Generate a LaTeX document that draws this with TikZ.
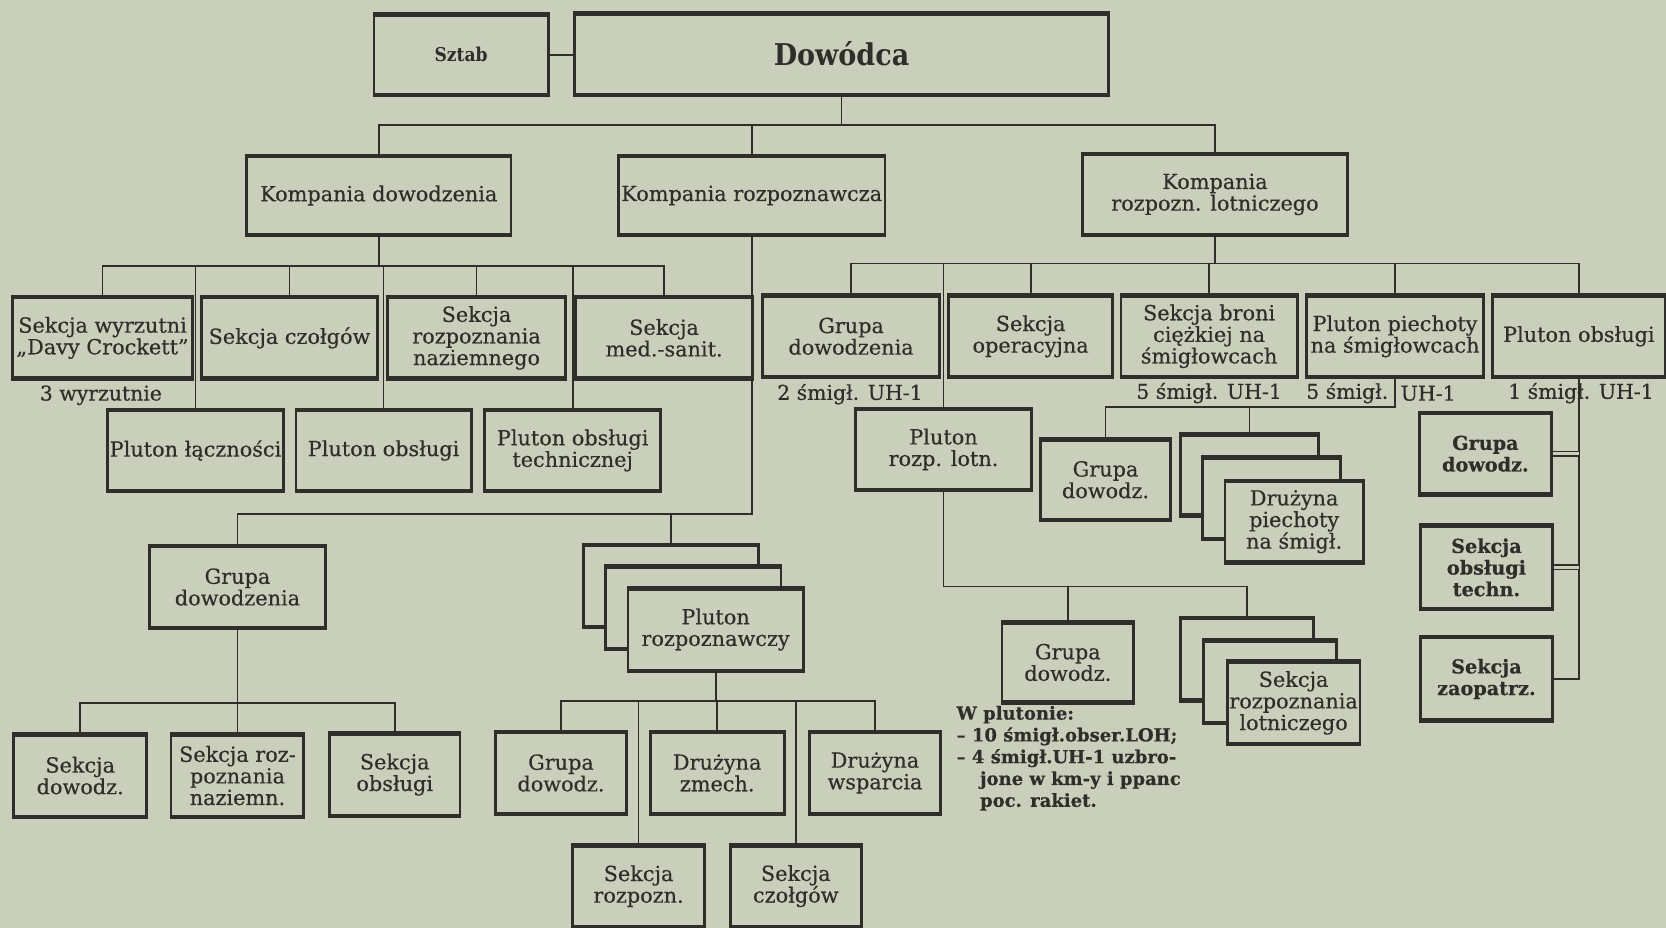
\documentclass[tikz,border=0pt]{standalone}
\usepackage{fontspec}
\setmainfont{DejaVu Serif}[FakeBold=0.4]
\newfontfamily\narrowfont{DejaVu Serif}[FakeStretch=0.9]
\usetikzlibrary{calc}
\definecolor{paper}{RGB}{202,207,187}
\definecolor{ink}{RGB}{46,46,42}
\begin{document}
\begin{tikzpicture}[x=0.53125pt,y=-0.53125pt,
  every node/.style={text=ink},
  box/.style 2 args={draw=ink, fill=paper, line width=1.4pt, inner sep=0pt,
    minimum width=#1*0.53125pt, minimum height=#2*0.53125pt, align=center,
    font=\fontsize{10.4}{10.8}\selectfont,
    path picture={\draw[ink, line width=3pt]
      (path picture bounding box.north west) -- (path picture bounding box.north east)
      (path picture bounding box.south west) -- (path picture bounding box.south east);}},
  bbox/.style={font=\bfseries\fontsize{9.6}{10.8}\selectfont},
  conn/.style={draw=ink, line width=0.9pt},
  dconn/.style={draw=ink, line width=0.8pt, double=paper, double distance=1.3pt},
  lbl/.style={font=\fontsize{10.2}{11}\selectfont, inner sep=0pt}
]
\fill[paper] (0,0) rectangle (1568,873);
\useasboundingbox (0,0) rectangle (1568,873);

% coordinates of bus lines
\coordinate (b1) at (0,118);
\coordinate (b2) at (0,250);
\coordinate (b3) at (0,484);
\coordinate (b4) at (0,662);
\coordinate (b5) at (0,660);
\coordinate (b6) at (0,248);
\coordinate (b7) at (0,552);
\coordinate (b8) at (0,383);

% top
\node[box={164}{77}, font=\narrowfont\bfseries\fontsize{9.5}{11}\selectfont] (sztab) at (434,51.5) {Sztab};
\node[box={502}{78}, font=\narrowfont\bfseries\fontsize{15}{17}\selectfont] (dow) at (792,51) {Dowódca};

% companies
\node[box={249}{76}] (kd) at (356.5,184) {Kompania dowodzenia};
\node[box={251}{76}] (kr) at (707.5,184) {Kompania rozpoznawcza};
\node[box={249}{78}] (kl) at (1143.5,183) {Kompania\\rozpozn. lotniczego};

% row 3
\node[box={169}{78}] (s1) at (96.5,318) {Sekcja wyrzutni\\„Davy Crockett''};
\node[box={165}{78}] (s2) at (272.5,318) {Sekcja czołgów};
\node[box={167}{78}] (s3) at (448.5,318) {Sekcja\\rozpoznania\\naziemnego};
\node[box={166}{78}] (s4) at (625,318) {Sekcja\\med.-sanit.};
\node[box={166}{78}] (gd1) at (801,316.5) {Grupa\\dowodzenia};
\node[box={154}{78}] (so) at (970,316.5) {Sekcja\\operacyjna};
\node[box={166}{78}] (sb) at (1138,316.5) {Sekcja broni\\ciężkiej na\\śmigłowcach};
\node[box={166}{78}] (pp) at (1313,316.5) {Pluton piechoty\\na śmigłowcach};
\node[box={162}{78}] (po) at (1486,316.5) {Pluton obsługi};

% row 4
\node[box={166}{78}] (pl) at (184,424) {Pluton łączności};
\node[box={165}{78}] (pob) at (361,424) {Pluton obsługi};
\node[box={166}{78}] (pot) at (539,424) {Pluton obsługi\\technicznej};
\node[box={165}{78}] (prl) at (888,423) {Pluton\\rozp. lotn.};
\node[box={123}{77}] (gd3) at (1040.5,451.5) {Grupa\\dowodz.};
\node[box={130}{78}] (dp3) at (1176,447) {};
\node[box={130}{78}] (dp2) at (1197,469) {};
\node[box={130}{78}] (dp) at (1218,491) {Drużyna\\piechoty\\na śmigł.};
\node[box={124}{78}, bbox] (gdR) at (1398,427) {Grupa\\dowodz.};
\node[box={124}{80}, bbox] (sot) at (1399,534) {Sekcja\\obsługi\\techn.};
\node[box={124}{80}, bbox] (sz) at (1399,639) {Sekcja\\zaopatrz.};

% row 5
\node[box={165}{79}] (gd2) at (223.5,552.5) {Grupa\\dowodzenia};
\node[box={165}{79}] (pr3) at (631.5,551.5) {};
\node[box={165}{79}] (pr2) at (652.5,572) {};
\node[box={165}{79}] (pr) at (673.5,592.5) {Pluton\\rozpoznawczy};
\node[box={124}{77}] (gd4) at (1005,623.5) {Grupa\\dowodz.};
\node[box={125}{79}] (srl3) at (1173.5,620.5) {};
\node[box={125}{79}] (srl2) at (1195.5,641.5) {};
\node[box={125}{79}] (srl) at (1217.5,661.5) {Sekcja\\rozpoznania\\lotniczego};

% row 6
\node[box={125}{79}] (sd) at (75.5,730) {Sekcja\\dowodz.};
\node[box={125}{79}] (srn) at (223.5,730) {Sekcja roz-\\poznania\\naziemn.};
\node[box={123}{79}] (sob) at (371.5,729) {Sekcja\\obsługi};
\node[box={124}{79}] (gd5) at (528,727.5) {Grupa\\dowodz.};
\node[box={126}{79}] (dz) at (675,727.5) {Drużyna\\zmech.};
\node[box={123}{79}] (dw) at (823.5,727.5) {Drużyna\\wsparcia};

% row 7
\node[box={124}{78}] (sr) at (601,834) {Sekcja\\rozpozn.};
\node[box={123}{78}] (sc) at (749,834) {Sekcja\\czołgów};

% labels
\node[lbl] (l1) at (95,372) {3 wyrzutnie};
\node[lbl] (l2) at (800,371) {2 śmigł. UH-1};
\node[lbl] (l3) at (1138,370) {5 śmigł. UH-1};
\node[lbl, anchor=east] (l4) at (1307,370) {5 śmigł.};
\node[lbl, anchor=west] (l5) at (1318,370) {UH-1};
\node[lbl] (l6) at (1488,370) {1 śmigł. UH-1};
\node[lbl, anchor=north west, align=left, font=\bfseries\fontsize{9}{10.9}\selectfont] (note) at (900,664)
  {W plutonie:\\– 10 śmigł.obser.LOH;\\– 4 śmigł.UH-1 uzbro-\\\hspace*{1.3em}jone w km-y i ppanc\\\hspace*{1.3em}poc. rakiet.};

% connectors
\draw[conn] (sztab.east) -- (sztab.east -| dow.west);
\draw[conn] (kd.north) -- (kd.north |- b1) -| (kl.north);
\draw[conn] (kr.north) -- (kr.north |- b1);
\draw[conn] (dow.south) -- (dow.south |- b1);

\draw[conn] (s1.north) -- (s1.north |- b2) -| (s4.north);
\draw[conn] (kd.south) -- (kd.south |- b2);
\draw[conn] (s2.north) -- (s2.north |- b2);
\draw[conn] (s3.north) -- (s3.north |- b2);
\draw[conn] (pl.north) -- (pl.north |- b2);
\draw[conn] (pob.north) -- (pob.north |- b2);
\draw[conn] (pot.north) -- (pot.north |- b2);

\draw[conn] (kr.south) -- (kr.south |- b3) -| (gd2.north);
\draw[conn] (pr3.north) -- (pr3.north |- b3);

\draw[conn] (sd.north) -- (sd.north |- b4) -| (sob.north);
\draw[conn] (gd2.south) -- (srn.north);

\draw[conn] (gd5.north) -- (gd5.north |- b5) -| (dw.north);
\draw[conn] (pr.south) -- (pr.south |- b5);
\draw[conn] (dz.north) -- (dz.north |- b5);
\draw[conn] (sr.north) -- (sr.north |- b5);
\draw[conn] (sc.north) -- (sc.north |- b5);

\draw[conn] (gd1.north) -- (gd1.north |- b6) -| (po.north);
\draw[conn] (kl.south) -- (kl.south |- b6);
\draw[conn] (so.north) -- (so.north |- b6);
\draw[conn] (sb.north) -- (sb.north |- b6);
\draw[conn] (pp.north) -- (pp.north |- b6);
\draw[conn] (prl.north) -- (prl.north |- b6);

\draw[conn] (prl.south) -- (prl.south |- b7) -| (srl3.north);
\draw[conn] (gd4.north) -- (gd4.north |- b7);

\draw[conn] (pp.south) -- (pp.south |- b8) -| (gd3.north);
\draw[conn] (dp3.north) -- (dp3.north |- b8);

\draw[conn, line width=1.2pt] (po.south) |- (sz.east);
\draw[dconn] (gdR.east) -- (gdR.east -| po.south);
\draw[dconn] (sot.east) -- (sot.east -| po.south);
\end{tikzpicture}
\end{document}
